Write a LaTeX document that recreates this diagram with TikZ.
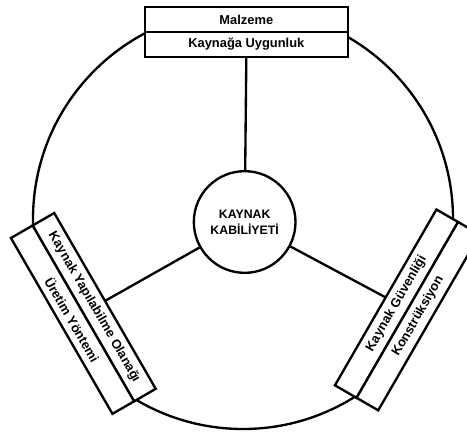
\documentclass[tikz,border=0pt]{standalone}
\usepackage{fontspec}
\setmainfont{Liberation Sans}
\usetikzlibrary{positioning}

\tikzset{
  half/.style={draw, fill=white, line width=2pt, outer sep=0pt, inner sep=0pt,
    minimum width=6.09cm, minimum height=0.75cm,
    font=\fontsize{11}{13}\selectfont\bfseries},
  core/.style={draw, circle, fill=white, line width=2pt, minimum size=3.05cm,
    align=center, font=\fontsize{10.5}{14}\selectfont\bfseries}
}

\begin{document}
\begin{tikzpicture}[line width=2pt]
\useasboundingbox (-7.29,-6.42) rectangle (6.72,6.57);

\coordinate (centre) at (0,0);
\draw (centre) circle (6.3);

\node[core] (kabiliyet) at (0.05,-0.09) {KAYNAK\\KABİLİYETİ};

\node[half] (malzeme) at (0.1,5.985) {Malzeme};
\node[half, below=0pt of malzeme] (uygunluk) {Kaynağa Uygunluk};

\node[half, rotate=-60] (olanak) at (-4.465,-2.645) {Kaynak Yapılabilme Olanağı};
\node[half, rotate=-60, below=0pt of olanak] (yontem) {Üretim Yöntemi};

\node[half, rotate=60] (guvenlik) at (4.605,-2.54) {Kaynak Güvenliği};
\node[half, rotate=60, below=0pt of guvenlik] (konstruksiyon) {Konstrüksiyon};

\draw (kabiliyet) -- (uygunluk.south);
\draw (kabiliyet) -- (olanak.north);
\draw (kabiliyet) -- (guvenlik.north);

\end{tikzpicture}
\end{document}
